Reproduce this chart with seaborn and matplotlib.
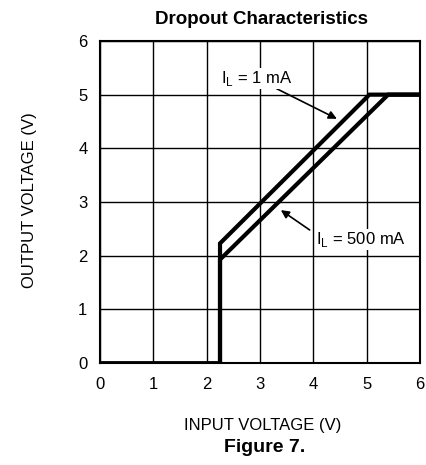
import numpy as np
import pandas as pd
import matplotlib
matplotlib.use("Agg")
import matplotlib.pyplot as plt
import seaborn as sns

# curve vertices
vin_1ma = [0.0, 2.25, 2.25, 5.05, 6.0]
vout_1ma = [0.0, 0.0, 2.23, 5.0, 5.0]
vin_500ma = [2.25, 2.25, 5.4, 6.0]
vout_500ma = [0.0, 1.93, 5.0, 5.0]
ticks = [0, 1, 2, 3, 4, 5, 6]

sns.set_theme(style="white")
plt.rcParams['font.family'] = ['Liberation Sans', 'DejaVu Sans']
plt.rcParams['text.color'] = 'black'

fig = plt.figure(figsize=(4.27, 4.65), dpi=100)
ax = fig.add_axes([0.234, 0.219, 0.750, 0.693])

df1 = pd.DataFrame({"vin": vin_1ma, "vout": vout_1ma})
df2 = pd.DataFrame({"vin": vin_500ma, "vout": vout_500ma})
for d in (df1, df2):
    sns.lineplot(data=d, x="vin", y="vout", sort=False, estimator=None,
                 errorbar=None, color="black", lw=3, ax=ax,
                 solid_joinstyle="miter")

ax.set_xlim(0, 6)
ax.set_ylim(0, 6)
ax.set_xticks(ticks)
ax.set_yticks(ticks)
ax.tick_params(labelsize=12, length=0, colors="black")
ax.tick_params(axis="x", pad=10)
ax.tick_params(axis="y", pad=9)
ax.grid(True, color="black", lw=1)
for s in ax.spines.values():
    s.set_color("black")
    s.set_linewidth(1.5)
ax.set_xlabel("")
ax.set_ylabel("")

ax.annotate("I$_\\mathregular{L}$ = 1 mA", xy=(4.44, 4.55), xytext=(2.26, 5.3),
            fontsize=12, va="center", ha="left", color="black",
            arrowprops=dict(arrowstyle="-|>", color="black", lw=1.2,
                            shrinkA=0, shrinkB=0, mutation_scale=12),
            bbox=dict(fc="white", ec="none", pad=0.5))
ax.annotate("", xy=(3.39, 2.85), xytext=(3.93, 2.48),
            arrowprops=dict(arrowstyle="-|>", color="black", lw=1.2,
                            shrinkA=0, shrinkB=0, mutation_scale=12))
ax.text(4.05, 2.3, "I$_\\mathregular{L}$ = 500 mA", fontsize=12, va="center",
        ha="left", color="black", bbox=dict(fc="white", ec="none", pad=0.5))

fig.text(0.613, 0.957, "Dropout Characteristics", ha="center", va="center",
         fontsize=13.5, fontweight="bold")
fig.text(0.615, 0.086, "INPUT VOLTAGE (V)", ha="center", va="center", fontsize=12)
fig.text(0.07, 0.57, "OUTPUT VOLTAGE (V)", ha="center", va="center", fontsize=12,
         rotation=90)
fig.text(0.62, 0.038, "Figure 7.", ha="center", va="center",
         fontsize=14, fontweight="bold")

fig.savefig("out.png", dpi=100)
